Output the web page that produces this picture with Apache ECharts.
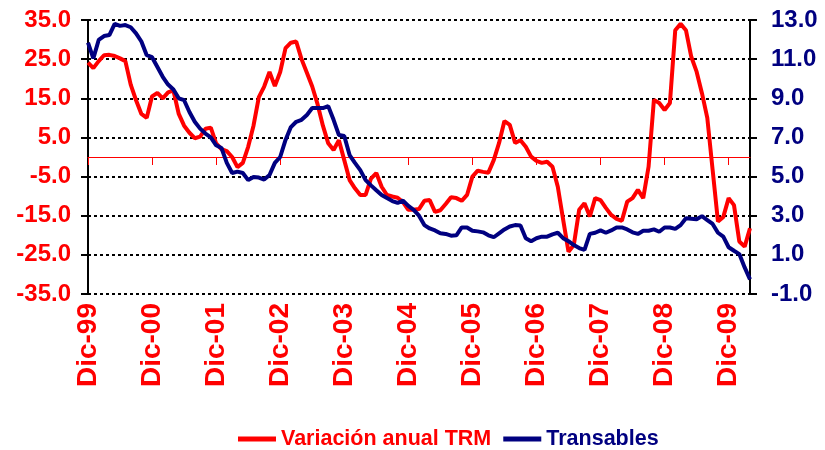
<!DOCTYPE html>
<html>
<head>
<meta charset="utf-8">
<script src="https://cdn.jsdelivr.net/npm/echarts@6/dist/echarts.min.js"></script>
<style>
  html, body { margin: 0; padding: 0; background: #fff; }
  #chart { width: 825px; height: 450px; }
</style>
</head>
<body>
<div id="chart"></div>
<script>
// Meses (Dic-99 a Abr-10)
const monthNames = ["Ene", "Feb", "Mar", "Abr", "May", "Jun", "Jul", "Ago", "Sep", "Oct", "Nov", "Dic"];
const startYear = 1999;
const startMonth = 11; // Dic
const nPoints = 125;

const categories = [];
for (let i = 0; i < nPoints; i++) {
  const m = (startMonth + i) % 12;
  const y = startYear + Math.floor((startMonth + i) / 12);
  categories.push(monthNames[m] + "-" + String(y % 100).padStart(2, "0"));
}

// Variación anual TRM (%), eje izquierdo
const trm = [
  24.1, 22.7, 24.5, 26.0, 26.1, 25.8, 25.2, 24.5, 18.5, 14.5, 11.0, 10.0,
  15.5, 16.4, 15.0, 16.5, 17.0, 11.0, 8.0, 6.2, 4.8, 5.2, 7.2, 7.5,
  3.5, 2.0, 1.5, 0.0, -2.6, -1.5, 2.6, 8.0, 15.3, 18.0, 21.7, 18.1,
  21.7, 27.8, 29.2, 29.5, 25.0, 21.5, 18.0, 13.5, 8.0, 3.5, 1.8, 4.3,
  -0.8, -5.9, -8.0, -9.7, -9.7, -5.5, -4.1, -7.6, -9.7, -10.1, -10.4, -11.5,
  -13.5, -13.5, -13.3, -11.2, -11.0, -14.0, -13.6, -12.0, -10.3, -10.5, -11.2, -9.7,
  -5.0, -3.5, -3.8, -4.0, -0.8, 3.6, 9.2, 8.2, 3.6, 4.3, 2.6, 0.1,
  -1.0, -1.5, -1.2, -2.5, -7.6, -16.0, -24.2, -22.5, -13.5, -11.8, -15.2, -10.5,
  -11.0, -13.0, -14.8, -15.8, -16.3, -11.4, -10.5, -8.4, -10.5, -2.5, 14.6, 13.8,
  12.0, 13.8, 32.4, 34.0, 32.4, 25.6, 21.8, 16.3, 10.0, -3.3, -16.5, -15.3,
  -10.5, -12.3, -21.6, -22.9, -18.2
];

// Transables (%), eje derecho
const transables = [
  11.84, 11.04, 11.98, 12.18, 12.23, 12.8, 12.7, 12.74, 12.63, 12.32, 11.9, 11.2,
  11.1, 10.6, 10.1, 9.7, 9.45, 9.0, 8.9, 8.3, 7.8, 7.45, 7.2, 7.0,
  6.6, 6.46, 5.7, 5.18, 5.25, 5.18, 4.82, 4.98, 4.95, 4.85, 5.08, 5.7,
  6.0, 6.87, 7.53, 7.8, 7.9, 8.15, 8.5, 8.5, 8.5, 8.6, 7.9, 7.12,
  7.07, 6.1, 5.7, 5.33, 4.82, 4.55, 4.3, 4.06, 3.9, 3.75, 3.65, 3.77,
  3.5, 3.3, 3.0, 2.52, 2.35, 2.25, 2.1, 2.07, 1.98, 2.0, 2.4, 2.4,
  2.23, 2.2, 2.15, 2.0, 1.9, 2.1, 2.3, 2.45, 2.52, 2.5, 1.85, 1.7,
  1.85, 1.93, 1.93, 2.05, 2.13, 1.85, 1.7, 1.5, 1.35, 1.25, 2.07, 2.13,
  2.25, 2.13, 2.25, 2.4, 2.4, 2.3, 2.15, 2.07, 2.23, 2.23, 2.3, 2.18,
  2.4, 2.4, 2.33, 2.52, 2.87, 2.85, 2.82, 2.98, 2.78, 2.58, 2.13, 1.93,
  1.39, 1.21, 1.04, 0.36, -0.25
];

const leftTicks = [-35, -25, -15, -5, 5, 15, 25, 35];
const rightTicks = [-1, 1, 3, 5, 7, 9, 11, 13];

const RED = "#FF0000";
const NAVY = "#000080";
const FONT = "'Liberation Sans', Arial, sans-serif";

const chart = echarts.init(document.getElementById("chart"));

const isDic = (idx) => idx % 12 === 0;

const option = {
  backgroundColor: "#fff",
  animation: false,
  grid: { left: 88, right: 75, top: 20, bottom: 156 },
  legend: {
    left: 238,
    top: 428,
    padding: 0,
    icon: "rect",
    itemWidth: 38,
    itemHeight: 5,
    itemGap: 12,
    textStyle: { fontFamily: FONT, fontSize: 21.5, fontWeight: "bold" },
    data: [
      { name: "Variación anual TRM", textStyle: { color: RED } },
      { name: "Transables", textStyle: { color: NAVY } }
    ]
  },
  xAxis: [
    {
      type: "category",
      data: categories,
      boundaryGap: false,
      position: "bottom",
      axisLine: { show: false, onZero: false },
      axisTick: { show: false },
      splitLine: { show: false },
      axisLabel: {
        interval: (idx) => isDic(idx),
        rotate: 90,
        margin: 9,
        color: RED,
        fontFamily: FONT,
        fontSize: 28,
        fontWeight: "bold"
      }
    },
    {
      type: "category",
      data: categories,
      boundaryGap: false,
      position: "bottom",
      axisLine: { show: true, onZero: true, onZeroAxisIndex: 0, lineStyle: { color: RED, width: 1 } },
      axisTick: { show: true, interval: (idx) => isDic(idx), length: 8, lineStyle: { color: RED, width: 1 } },
      axisLabel: { show: false },
      splitLine: { show: false }
    }
  ],
  yAxis: [
    {
      type: "value",
      min: -35,
      max: 35,
      axisLine: { show: true, lineStyle: { color: "#000", width: 2 } },
      axisTick: { show: true, length: 7, customValues: leftTicks, lineStyle: { color: "#000", width: 2 } },
      splitLine: { show: true, lineStyle: { color: "#000", width: 2, type: [3, 3] } },
      axisLabel: {
        customValues: leftTicks,
        formatter: (v) => v.toFixed(1),
        margin: 17,
        color: RED,
        fontFamily: FONT,
        fontSize: 24,
        fontWeight: "bold"
      }
    },
    {
      type: "value",
      min: -1,
      max: 13,
      position: "right",
      axisLine: { show: true, lineStyle: { color: "#000", width: 2 } },
      axisTick: { show: true, length: 7, customValues: rightTicks, lineStyle: { color: "#000", width: 2 } },
      splitLine: { show: false },
      axisLabel: {
        customValues: rightTicks,
        formatter: (v) => v.toFixed(1),
        margin: 21,
        color: NAVY,
        fontFamily: FONT,
        fontSize: 24,
        fontWeight: "bold"
      }
    }
  ],
  series: [
    {
      name: "Variación anual TRM",
      type: "line",
      data: trm,
      xAxisIndex: 0,
      yAxisIndex: 0,
      showSymbol: false,
      color: RED,
      lineStyle: { color: RED, width: 4 },
      z: 3
    },
    {
      name: "Transables",
      type: "line",
      data: transables,
      xAxisIndex: 0,
      yAxisIndex: 1,
      showSymbol: false,
      color: NAVY,
      lineStyle: { color: NAVY, width: 4 },
      z: 4
    }
  ]
};

chart.setOption(option);
window.addEventListener("resize", () => chart.resize());
</script>
</body>
</html>
